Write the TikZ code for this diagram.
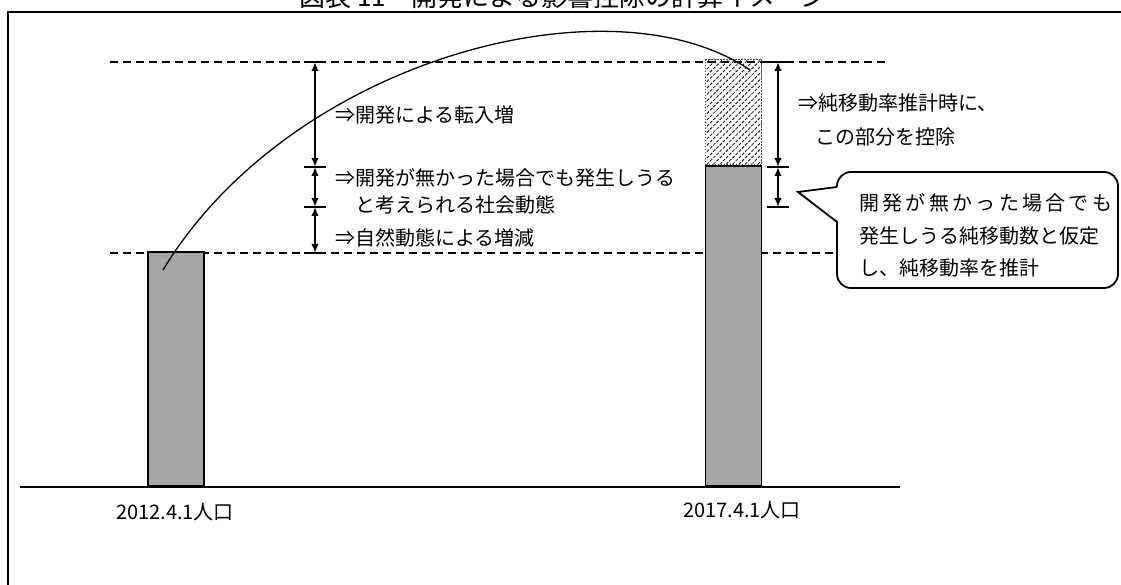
\documentclass[tikz,border=0pt]{standalone}
\usepackage{fontspec}
\setmainfont{Noto Sans CJK JP}
\usepackage{tikz}
\usetikzlibrary{positioning,arrows.meta,patterns.meta}
\definecolor{barfill}{RGB}{166,166,166}
\tikzset{
  frame/.style={line width=1.8pt},
  level/.style={dash pattern=on 8pt off 5pt, line width=1.4pt},
  axis/.style={line width=1.8pt},
  bar/.style={rectangle, draw, line width=1.9pt, fill=barfill, minimum width=56pt, inner sep=0pt, anchor=south},
  hatchbar/.style={rectangle, draw=black!70, dash pattern=on 1.5pt off 1.5pt, line width=1pt,
                   pattern={Lines[angle=45, distance=4.5pt, line width=0.8pt]},
                   minimum width=56pt, inner sep=0pt, anchor=south},
  dim/.style={arrows={Latex[length=9pt,width=7.5pt]-Latex[length=9pt,width=7.5pt]}, line width=1.9pt},
  tick/.style={line width=1.9pt},
  jump/.style={line width=1.3pt},
  txt/.style={inner sep=0pt, anchor=west, align=left, font=\fontsize{20}{27}\selectfont},
  note/.style={rectangle, draw, rounded corners=14pt, line width=1.8pt, fill=white,
               minimum width=281pt, minimum height=116pt},
}
\begin{document}
\begin{tikzpicture}[x=1pt,y=-1pt]
  \useasboundingbox (0,0) rectangle (1121,585);
  % frame and title (cut off at the top)
  \draw[frame] (1140,12) -- (8,12) -- (8,600);
  \node[font=\fontsize{26}{30}\selectfont, inner sep=0pt] (title) at (563,-3) {図表 11　開発による影響控除の計算イメージ};

  % levels and axis
  \draw[level] (110,62) -- (885,62);
  \draw[level] (110,253) -- (885,253);
  \draw[axis] (20,487) -- (900,487);

  % bars
  \node[bar, minimum height=234pt] (bar1) at (176,487) {};
  \node[bar, minimum height=320pt] (bar2) at (733.5,487) {};
  \node[hatchbar, minimum height=105pt] (cut) at (bar2.north) {};

  \coordinate (from) at (163,270);
  \coordinate (to) at (750,70);
  \draw[jump] (from) .. controls (290,60) and (610,-25) .. (to);

  % dimension arrows
  \coordinate (l0) at (315,62);
  \coordinate (l1) at (315,167);
  \coordinate (l2) at (315,207);
  \coordinate (l3) at (315,253);
  \coordinate (r0) at (778,62);
  \coordinate (r1) at (778,167);
  \coordinate (r2) at (778,207);
  \draw[dim] (l0) -- (l1);
  \draw[dim] (l1) -- (l2);
  \draw[dim] (l2) -- (l3);
  \draw[dim] (r0) -- (r1);
  \draw[dim] (r1) -- (r2);
  \foreach \c in {l0,l1,l2,l3,r0,r1,r2}
    \draw[tick] ([xshift=-11pt]\c) -- ([xshift=11pt]\c);

  \node[txt] (t1) at (335,115) {⇒開発による転入増};
  \node[txt] (t2) at (335,191.5) {⇒開発が無かった場合でも発生しうる\\\hspace*{20pt}と考えられる社会動態};
  \node[txt] (t3) at (335,238) {⇒自然動態による増減};
  \node[txt, font=\fontsize{20}{34}\selectfont] (t4) at (798,120) {⇒純移動率推計時に、\\\hspace*{17pt}この部分を控除};

  \node[txt, anchor=center] (year1) at (175,512) {2012.4.1人口};
  \node[txt, anchor=center] (year2) at (742,510) {2017.4.1人口};

  % callout
  \node[note] (note) at (977.5,230) {};
  \coordinate (tip) at (798,192);
  \coordinate (tailtop) at (837,187);
  \coordinate (tailbot) at (837,222);
  \fill[white] ([xshift=2pt]tailtop) -- (tip) -- ([xshift=2pt]tailbot) -- cycle;
  \draw[line width=1.8pt] (tailtop) -- (tip) -- (tailbot);
  \node[txt, font=\fontsize{20}{32.5}\selectfont] (notetext) at (859,235.5)
    {\makebox[253pt][s]{開 発 が 無 か っ た 場 合 で も}\\発生しうる純移動数と仮定\\し、純移動率を推計};
\end{tikzpicture}
\end{document}
